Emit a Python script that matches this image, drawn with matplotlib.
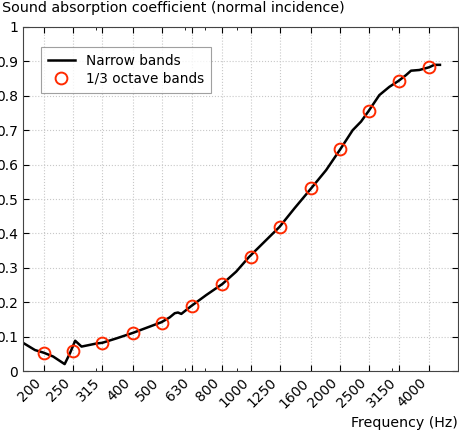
import numpy as np
import matplotlib
matplotlib.use("Agg")
import matplotlib.pyplot as plt
from matplotlib.ticker import FixedLocator, NullFormatter

# Narrow-band absorption curve
nb_freq = [170, 186.5, 200, 215, 235, 245, 255, 268, 286, 301, 315, 352, 400,
           455, 499, 532, 553, 567, 582, 629, 707, 801, 892, 984, 1249, 1403,
           1597, 1794, 2004, 2205, 2353, 2497, 2713, 2932, 3145, 3337, 3470,
           3701, 3999, 4157, 4346]
nb_alpha = [0.082, 0.061, 0.053, 0.042, 0.020, 0.052, 0.088, 0.071, 0.076, 0.080,
            0.082, 0.095, 0.111, 0.129, 0.142, 0.156, 0.168, 0.170, 0.166, 0.189,
            0.221, 0.253, 0.289, 0.331, 0.419, 0.473, 0.531, 0.584, 0.645, 0.700,
            0.725, 0.756, 0.802, 0.826, 0.843, 0.860, 0.873, 0.875, 0.883, 0.890,
            0.890]

# 1/3 octave band values
oct_freq = [200, 250, 315, 400, 500, 630, 800, 1000, 1250, 1600, 2000, 2500, 3150, 4000]
oct_alpha = [0.052, 0.058, 0.080, 0.110, 0.140, 0.189, 0.252, 0.330, 0.420,
             0.531, 0.645, 0.756, 0.843, 0.883]

fig = plt.figure(figsize=(4.59, 4.32), dpi=100)
ax = fig.add_axes([0.0501, 0.1412, 0.9477, 0.7963])

ax.plot(nb_freq, nb_alpha, color="black", lw=1.8, label="Narrow bands")
ax.plot(oct_freq, oct_alpha, "o", mfc="none", mec="#ff2a00", mew=1.4, ms=8.5,
        label="1/3 octave bands")

ax.set_xscale("log")
ax.set_xlim(170, 5000)
ax.set_ylim(0, 1)
ax.xaxis.set_major_locator(FixedLocator(oct_freq))
ax.xaxis.set_minor_formatter(NullFormatter())
ax.set_xticklabels([str(f) for f in oct_freq], rotation=45, ha="right")
ax.set_yticks(np.arange(0, 1.01, 0.1))
ax.set_yticklabels(["0", "0.1", "0.2", "0.3", "0.4", "0.5", "0.6", "0.7",
                    "0.8", "0.9", "1"])
ax.tick_params(which="both", direction="in", top=True, right=True, labelsize=10)
ax.tick_params(which="major", length=4)
ax.tick_params(which="minor", length=2)
ax.grid(True, which="major", color="#c8c8c8", linestyle=":", linewidth=0.8)
for s in ax.spines.values():
    s.set_color("#444444")

leg = ax.legend(loc="upper left", bbox_to_anchor=(0.041, 0.942), borderaxespad=0,
                fancybox=False, numpoints=1, fontsize=9.8, handlelength=2.0,
                borderpad=0.5, labelspacing=0.3)
leg.get_frame().set_edgecolor("#888888")
leg.get_frame().set_linewidth(0.8)

fig.text(0.004, 0.981, "Sound absorption coefficient (normal incidence)",
         fontsize=10.3, ha="left", va="center")
fig.text(0.998, 0.005, "Frequency (Hz)", fontsize=10.2, ha="right", va="bottom")

fig.savefig("out.png", dpi=100)
